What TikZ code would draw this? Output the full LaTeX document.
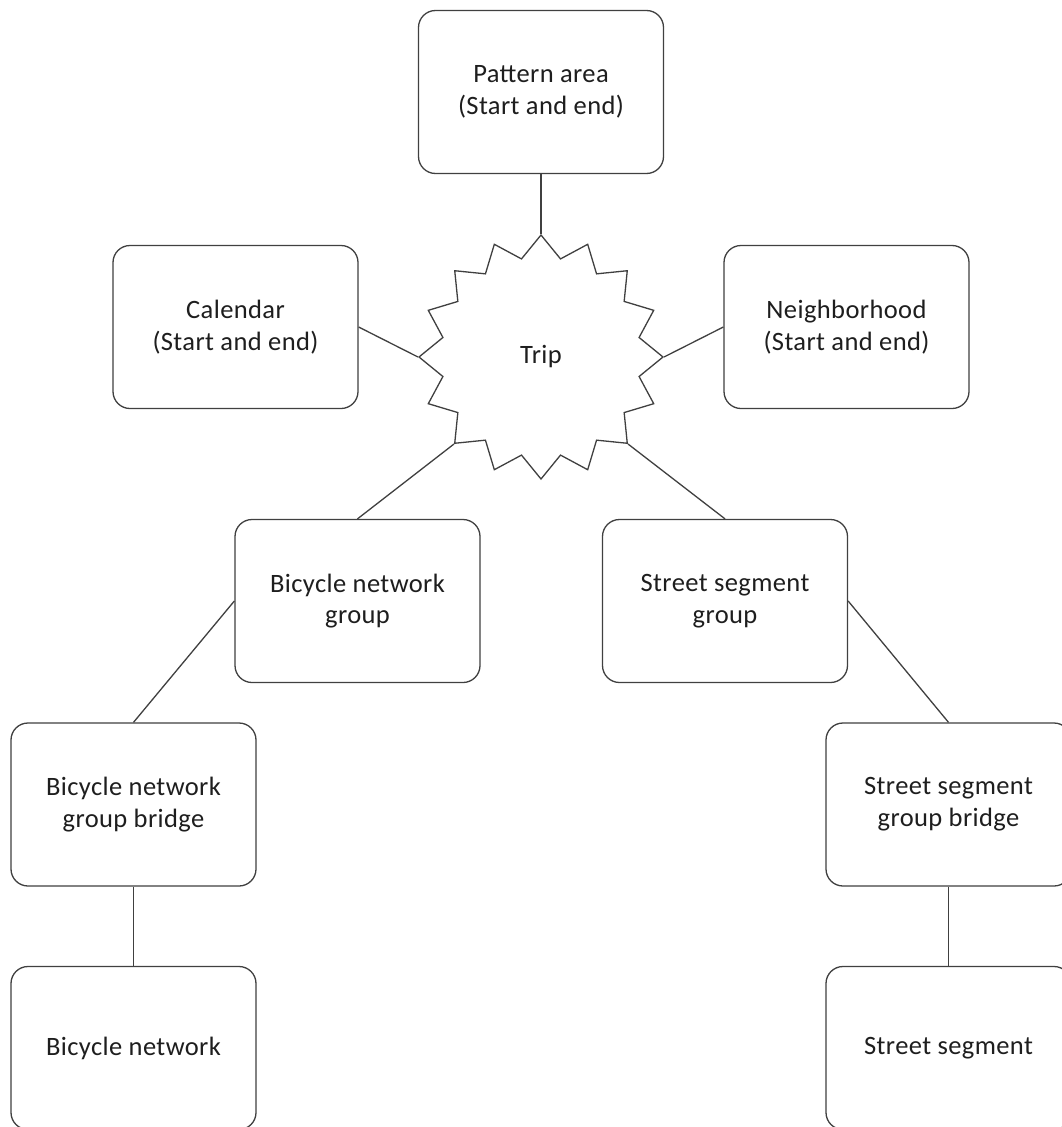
\documentclass[tikz,border=0pt]{standalone}
\usepackage{fontspec}
\setmainfont{Carlito}[LetterSpace=1.5]
\usetikzlibrary{shapes.geometric}
\definecolor{edgecol}{HTML}{404040}
\definecolor{txtcol}{HTML}{1E1E1E}
\tikzset{
  box/.style={draw=edgecol, line width=1.3pt, rounded corners=17pt, fill=white,
    minimum width=245pt, minimum height=163pt, align=center, text=txtcol,
    font=\fontsize{26.5}{31.7}\selectfont, inner sep=0pt},
  tripstar/.style={draw=edgecol, line width=1.3pt, star, star points=16,
    star point ratio=1.22, minimum size=244pt, inner sep=0pt, text=txtcol,
    font=\fontsize{26.5}{31.7}\selectfont},
  link/.style={draw=edgecol, line width=1.3pt}
}
\begin{document}
\begin{tikzpicture}[x=1pt, y=-1pt]
\clip (0,0) rectangle (1062,1127);
\fill[white] (0,0) rectangle (1062,1127);
\node[box] (pat) at (541,92) {Pattern area\\(Start and end)};
\node[box] (cal) at (235.5,327) {Calendar\\(Start and end)};
\node[box] (nbh) at (846.5,327) {Neighborhood\\(Start and end)};
\node[tripstar] (trip) at (541,357) {Trip};
\node[box] (bng) at (357.5,601) {Bicycle network\\group};
\node[box] (ssg) at (725,601) {Street segment\\group};
\node[box] (bngb) at (133.5,804.5) {Bicycle network\\group bridge};
\node[box] (ssgb) at (948.5,804.5) {Street segment\\group bridge};
\node[box] (bn) at (133.5,1048) {Bicycle network};
\node[box] (ss) at (948.5,1048) {Street segment};
\draw[link] (pat.south) -- (trip.90);
\draw[link] (cal.east) -- (trip.180);
\draw[link] (nbh.west) -- (trip.0);
\draw[link] (bng.north) -- (trip.225);
\draw[link] (ssg.north) -- (trip.315);
\draw[link] (bng.west) -- (bngb.north);
\draw[link] (ssg.east) -- (ssgb.north);
\draw[link] (bngb.south) -- (bn.north);
\draw[link] (ssgb.south) -- (ss.north);
\end{tikzpicture}
\end{document}
